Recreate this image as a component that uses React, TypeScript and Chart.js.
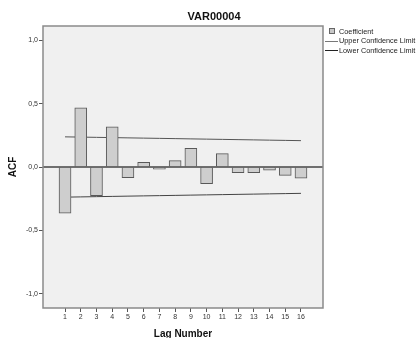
import React, { useEffect, useRef } from "react";
import { Chart, registerables } from "chart.js";

Chart.register(...registerables);

const title = "VAR00004";
const xTitle = "Lag Number";
const yTitle = "ACF";
const lags = [1, 2, 3, 4, 5, 6, 7, 8, 9, 10, 11, 12, 13, 14, 15, 16];
const coefficient = [-0.365, 0.468, -0.226, 0.318, -0.084, 0.037, -0.018, 0.05, 0.147, -0.132, 0.105, -0.045, -0.045, -0.026, -0.066, -0.089];
const upperLimit = [0.238, 0.236, 0.234, 0.232, 0.230, 0.228, 0.226, 0.224, 0.222, 0.220, 0.218, 0.216, 0.214, 0.212, 0.210, 0.208];
const lowerLimit = [-0.238, -0.236, -0.234, -0.232, -0.230, -0.228, -0.226, -0.224, -0.222, -0.220, -0.218, -0.216, -0.214, -0.212, -0.210, -0.208];
const yTicks = [-1.0, -0.5, 0.0, 0.5, 1.0];
const legendLabels = ["Coefficient", "Upper Confidence Limit", "Lower Confidence Limit"];

const FONT = "'Liberation Sans', Arial, sans-serif";

const decor = {
  id: "decor",
  beforeDraw(chart: any) {
    const { ctx, chartArea: a } = chart;
    ctx.save();
    ctx.fillStyle = "#f0f0f0";
    ctx.fillRect(a.left, a.top, a.right - a.left, a.bottom - a.top);
    ctx.restore();
  },
  afterDraw(chart: any) {
    const { ctx, chartArea: a, scales } = chart;
    ctx.save();
    const y0 = scales.y.getPixelForValue(0);
    ctx.strokeStyle = "#444";
    ctx.lineWidth = 1.5;
    ctx.beginPath();
    ctx.moveTo(a.left, y0);
    ctx.lineTo(a.right, y0);
    ctx.stroke();
    ctx.strokeStyle = "#8a8a8a";
    ctx.lineWidth = 1.5;
    ctx.strokeRect(a.left, a.top, a.right - a.left, a.bottom - a.top);
    ctx.fillStyle = "#111";
    ctx.textAlign = "center";
    ctx.textBaseline = "middle";
    ctx.font = `bold 11px ${FONT}`;
    ctx.fillText(title, 214, 17);
    ctx.font = `bold 10px ${FONT}`;
    ctx.fillText(xTitle, (a.left + a.right) / 2, 334);
    ctx.save();
    ctx.translate(13, (a.top + a.bottom) / 2);
    ctx.rotate(-Math.PI / 2);
    ctx.fillText(yTitle, 0, 0);
    ctx.restore();
    ctx.font = `7.3px ${FONT}`;
    ctx.textAlign = "left";
    ctx.fillStyle = "#c8c8c8";
    ctx.fillRect(329, 28, 6, 6);
    ctx.strokeStyle = "#666";
    ctx.lineWidth = 1;
    ctx.strokeRect(329.5, 28.5, 5, 5);
    ctx.fillStyle = "#222";
    ctx.fillText(legendLabels[0], 339, 32);
    ctx.strokeStyle = "#777";
    ctx.beginPath();
    ctx.moveTo(325, 41.5);
    ctx.lineTo(338, 41.5);
    ctx.stroke();
    ctx.fillText(legendLabels[1], 339, 41);
    ctx.strokeStyle = "#222";
    ctx.beginPath();
    ctx.moveTo(325, 50.5);
    ctx.lineTo(338, 50.5);
    ctx.stroke();
    ctx.fillText(legendLabels[2], 339, 50.5);
    ctx.restore();
  },
};

export default function App() {
  const ref = useRef<HTMLCanvasElement>(null);
  useEffect(() => {
    if (!ref.current) return;
    const chart = new Chart(ref.current, {
      type: "bar",
      data: {
        datasets: [
          {
            type: "bar",
            label: legendLabels[0],
            data: lags.map((l, i) => ({ x: l, y: coefficient[i] })),
            backgroundColor: "#cecece",
            borderColor: "#585858",
            borderWidth: 1,
            barThickness: 12,
          } as any,
          {
            type: "line",
            label: legendLabels[1],
            data: lags.map((l, i) => ({ x: l, y: upperLimit[i] })),
            borderColor: "#555",
            borderWidth: 1,
            pointRadius: 0,
            fill: false,
          },
          {
            type: "line",
            label: legendLabels[2],
            data: lags.map((l, i) => ({ x: l, y: lowerLimit[i] })),
            borderColor: "#444",
            borderWidth: 1,
            pointRadius: 0,
            fill: false,
          },
        ],
      },
      options: {
        responsive: false,
        animation: false,
        devicePixelRatio: 1,
        layout: { padding: { left: 0, top: 26, right: 93, bottom: 0 } },
        plugins: { legend: { display: false }, tooltip: { enabled: false }, title: { display: false } },
        scales: {
          x: {
            type: "linear",
            min: -0.4,
            max: 17.4,
            offset: false,
            afterFit: (s: any) => { s.height = 30; },
            afterBuildTicks: (s: any) => { s.ticks = lags.map((v) => ({ value: v })); },
            ticks: { font: { size: 7, family: FONT }, color: "#333", padding: 1, autoSkip: false, maxRotation: 0 },
            grid: { display: true, offset: false, drawOnChartArea: false, drawTicks: true, tickLength: 4, color: "#555" },
            border: { display: false },
          },
          y: {
            type: "linear",
            min: -1.113,
            max: 1.113,
            afterFit: (s: any) => { s.width = 43; },
            afterBuildTicks: (s: any) => { s.ticks = yTicks.map((v) => ({ value: v })); },
            ticks: {
              font: { size: 7, family: FONT },
              color: "#333",
              padding: 1,
              callback: (v: any) => Number(v).toFixed(1).replace(".", ","),
            },
            grid: { display: true, drawOnChartArea: false, drawTicks: true, tickLength: 4, color: "#555" },
            border: { display: false },
          },
        },
      },
      plugins: [decor],
    });
    return () => chart.destroy();
  }, []);
  return (
    <div style={{ position: "absolute", left: 0, top: 0, width: 416, height: 338, background: "#fff" }}>
      <canvas ref={ref} width={416} height={338} />
    </div>
  );
}
